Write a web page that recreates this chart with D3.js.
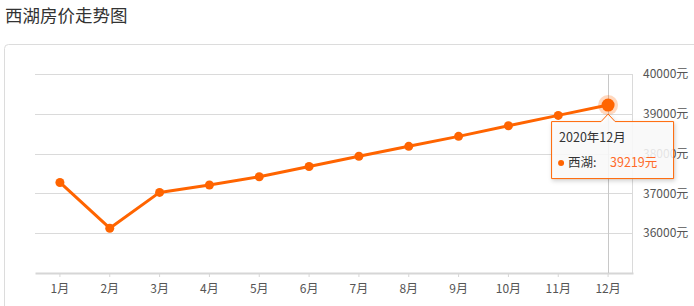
<!DOCTYPE html>
<html>
<head>
<meta charset="utf-8">
<script src="https://cdn.jsdelivr.net/npm/d3@7"></script>
<style>
  body { margin: 0; background: #fff; font-family: "Noto Sans CJK SC", "Noto Sans", sans-serif; }
  svg { display: block; }
</style>
</head>
<body>
<div id="chart"></div>
<script>
// 西湖 monthly price, 2020
var months = ["1月", "2月", "3月", "4月", "5月", "6月", "7月", "8月", "9月", "10月", "11月", "12月"];
var prices = [37275, 36125, 37025, 37210, 37418, 37675, 37933, 38183, 38433, 38700, 38960, 39219];
var yTicks = [36000, 37000, 38000, 39000, 40000];
var title = "西湖房价走势图";
var seriesName = "西湖";
var activeIndex = 11;
var activeLabel = "2020年12月";

var width = 694, height = 306,
  margin = {top: 74, right: 61, bottom: 33, left: 35},
  orange = "#ff6400";

var svg = d3.select("#chart").append("svg")
  .attr("width", width)
  .attr("height", height);

svg.append("text")
  .attr("x", 5).attr("y", 22)
  .style("font-size", "17.5px")
  .style("fill", "#333")
  .text(title);

// panel
svg.append("rect")
  .attr("x", 4.5).attr("y", 44.5)
  .attr("width", 740).attr("height", 320)
  .attr("rx", 4)
  .style("fill", "none")
  .style("stroke", "#dcdcdc");

var x = d3.scaleBand()
  .domain(months)
  .range([margin.left, width - margin.right]);

var y = d3.scaleLinear()
  .domain([35000, 40000])
  .range([height - margin.bottom, margin.top]);

var g = svg.append("g");

// grid
g.selectAll(".grid").data(yTicks).enter()
  .append("line")
  .attr("x1", margin.left).attr("x2", width - margin.right)
  .attr("y1", function (d) { return Math.round(y(d)) + 0.5; })
  .attr("y2", function (d) { return Math.round(y(d)) + 0.5; })
  .style("stroke", "#dadada");

// right edge
g.append("line")
  .attr("x1", width - margin.right - 0.5).attr("x2", width - margin.right - 0.5)
  .attr("y1", margin.top).attr("y2", height - margin.bottom)
  .style("stroke", "#dadada");

// y labels
g.selectAll(".ylab").data(yTicks).enter()
  .append("text")
  .attr("x", width - margin.right + 10)
  .attr("y", function (d) { return y(d); })
  .attr("dy", "0.35em")
  .style("font-size", "12px")
  .style("fill", "#555")
  .text(function (d) { return d + "元"; });

// x axis
var xAxis = g.append("g")
  .attr("transform", "translate(0," + (height - margin.bottom) + ")")
  .call(d3.axisBottom(x).tickSize(4).tickSizeOuter(0).tickPadding(7));
xAxis.select(".domain").style("stroke", "#d6d6d6").style("stroke-width", 2);
xAxis.selectAll(".tick line").style("stroke", "#d6d6d6");
xAxis.selectAll(".tick text")
  .style("font-size", "12px")
  .style("fill", "#555")
  .style("font-family", "'Noto Sans CJK SC', sans-serif");

// crosshair
var ax = x(months[activeIndex]) + x.bandwidth() / 2;
g.append("line")
  .attr("x1", Math.round(ax) + 0.5).attr("x2", Math.round(ax) + 0.5)
  .attr("y1", margin.top).attr("y2", height - margin.bottom)
  .style("stroke", "#c8c8c8");

// line
var line = d3.line()
  .x(function (d, i) { return x(months[i]) + x.bandwidth() / 2; })
  .y(function (d) { return y(d); });

g.append("path")
  .datum(prices)
  .attr("d", line)
  .style("fill", "none")
  .style("stroke", orange)
  .style("stroke-width", 3)
  .style("stroke-linejoin", "round");

g.selectAll(".dot").data(prices).enter()
  .append("circle")
  .attr("cx", function (d, i) { return x(months[i]) + x.bandwidth() / 2; })
  .attr("cy", function (d) { return y(d); })
  .attr("r", 4.5)
  .style("fill", orange);

// active point
var ay = y(prices[activeIndex]);
g.append("circle").attr("cx", ax).attr("cy", ay).attr("r", 10)
  .style("fill", orange).style("opacity", 0.25);
g.append("circle").attr("cx", ax).attr("cy", ay).attr("r", 6.5)
  .style("fill", orange);

// tooltip
var tip = g.append("g").attr("transform", "translate(" + (ax - 57) + "," + (ay + 16) + ")");
var tw = 123, th = 58, tx0 = 57;
tip.append("path")
  .attr("d", "M0.5,0.5 H" + (tx0 - 7) + " L" + tx0 + ",-7 L" + (tx0 + 7) + ",0.5 H" + (tw - 0.5) +
    " V" + (th - 0.5) + " H0.5 Z")
  .style("fill", "#fff")
  .style("fill-opacity", 0.85)
  .style("stroke", orange)
  .style("filter", "drop-shadow(1px 2px 2px rgba(0,0,0,0.2))");
tip.append("text")
  .attr("x", 8).attr("y", 21)
  .style("font-size", "12.5px").style("fill", "#333")
  .text(activeLabel);
tip.append("circle").attr("cx", 10).attr("cy", 42).attr("r", 3).style("fill", orange);
tip.append("text")
  .attr("x", 17).attr("y", 46)
  .style("font-size", "12.5px").style("fill", "#333")
  .text(seriesName + ":");
tip.append("text")
  .attr("x", 59).attr("y", 46)
  .style("font-size", "12.5px").style("fill", "#ff6a28")
  .text(prices[activeIndex] + "元");
</script>
</body>
</html>
